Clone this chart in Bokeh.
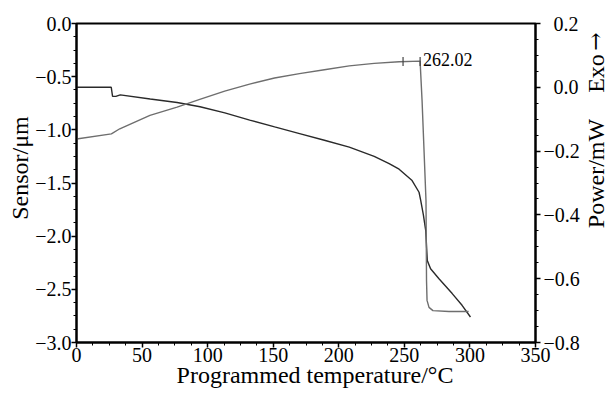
import numpy as np
from bokeh.plotting import figure
from bokeh.layouts import row
from bokeh.models import Range1d, LinearAxis, FixedTicker, CustomJSTickFormatter, Label
from bokeh.embed import file_html
from bokeh.resources import INLINE

# ---- data ----
temp_sensor = [0, 26.5, 27.5, 30, 33.4, 56.2, 76.7, 94.2, 113.1, 132.1, 151.1, 170.1, 189,
               208, 227, 238.4, 246, 255.9, 261.2, 262.5, 264.5, 266.3, 267.5, 270, 276.4,
               286.5, 294, 300.4]
sensor_um = [-0.60, -0.60, -0.685, -0.685, -0.671, -0.71, -0.743, -0.783, -0.84, -0.908,
             -0.972, -1.035, -1.098, -1.163, -1.25, -1.317, -1.37, -1.477, -1.587, -1.665,
             -1.80, -1.947, -2.23, -2.307, -2.40, -2.54, -2.65, -2.76]

temp_power = [0, 26.6, 33, 56, 76.7, 94, 113, 132, 151, 170, 189, 208, 227, 246, 262,
              263.5, 265, 266.5, 266.9, 267.3, 268.8, 271.8, 284, 299]
power_mw = [-0.162, -0.146, -0.13, -0.088, -0.062, -0.038, -0.012, 0.010, 0.029, 0.043,
            0.055, 0.067, 0.075, 0.080, 0.082, -0.041, -0.198, -0.355, -0.606, -0.668,
            -0.690, -0.700, -0.703, -0.703]

onset_marks_temp = [249.0, 262.02]
onset_marks_power = [0.081, 0.081]
onset_value = 262.02

x_ticks = [0, 50, 100, 150, 200, 250, 300, 350]
sensor_ticks = [-3.0, -2.5, -2.0, -1.5, -1.0, -0.5, 0.0]
power_ticks = [-0.8, -0.6, -0.4, -0.2, 0.0, 0.2]

x_label = "Programmed temperature/°C"
left_label = "Sensor/μm"
right_label = "Power/mW"
exo_label = "Exo"
exo_arrow = "→"

FONT = "Liberation Serif"
NB = "\u00a0"

p = figure(width=582, height=393, output_backend="svg", toolbar_location=None, tools="",
           x_range=Range1d(0, 350), y_range=Range1d(-3, 0),
           min_border_left=76, min_border_right=45, min_border_top=23, min_border_bottom=51)
p.extra_y_ranges = {"power": Range1d(-0.8, 0.2)}
p.grid.visible = False
p.outline_line_color = "black"
p.outline_line_width = 2
p.background_fill_color = "white"
p.border_fill_color = "white"

right_axis = LinearAxis(y_range_name="power")
p.add_layout(right_axis, "right")

p.xaxis.ticker = FixedTicker(ticks=x_ticks, minor_ticks=list(np.arange(0, 350.01, 12.5)))
p.yaxis[0].ticker = FixedTicker(ticks=sensor_ticks, minor_ticks=list(np.arange(-3.0, 0.001, 0.125)))
right_axis.ticker = FixedTicker(ticks=power_ticks, minor_ticks=list(np.arange(-0.8, 0.2001, 0.05)))

p.xaxis.formatter = CustomJSTickFormatter(code="return tick.toFixed(0);")
p.yaxis[0].formatter = CustomJSTickFormatter(
    code="return tick.toFixed(1).replace('-', '\u2212');")
right_axis.formatter = CustomJSTickFormatter(
    code="const s = tick.toFixed(1); return tick < -1e-9 ? s.replace('-', '\u2212') : '\u2007' + s;")

for ax in [p.xaxis[0], p.yaxis[0], right_axis]:
    ax.axis_line_width = 2
    ax.axis_line_color = "black"
    ax.major_tick_line_color = "black"
    ax.minor_tick_line_color = "black"
    ax.major_tick_line_width = 1.5
    ax.minor_tick_line_width = 1
    ax.major_tick_in = 0
    ax.major_tick_out = 5
    ax.minor_tick_in = 0
    ax.minor_tick_out = 3
    ax.major_label_text_font = FONT
    ax.major_label_text_font_size = "20px"
    ax.major_label_text_color = "black"
    ax.axis_label_text_font = FONT
    ax.axis_label_text_font_size = "24px"
    ax.axis_label_text_font_style = "normal"
    ax.axis_label_text_color = "black"

p.xaxis.major_label_standoff = 0
p.yaxis[0].major_label_standoff = 0
right_axis.major_label_standoff = 3

p.xaxis.axis_label = NB * 3 + x_label
p.xaxis.axis_label_standoff = -3
p.yaxis[0].axis_label = NB * 5 + left_label
p.yaxis[0].axis_label_standoff = -1

# curves
p.line(temp_sensor, sensor_um, line_color="#2a2a2a", line_width=1.4)
p.line(temp_power, power_mw, line_color="#6e6e6e", line_width=1.4, y_range_name="power")
p.scatter(onset_marks_temp, onset_marks_power, marker="dash", angle=np.pi / 2, size=9,
          line_color="#444444", line_width=1.2, y_range_name="power")

p.add_layout(Label(x=onset_value, y=onset_marks_power[-1], y_range_name="power",
                   text=f"{onset_value:.2f}", x_offset=3, y_offset=2,
                   text_align="left", text_baseline="middle",
                   text_font=FONT, text_font_size="18px", text_color="black"))

# narrow strip on the right holding the right-hand axis title (reads bottom to top)
q = figure(width=27, height=393, output_backend="svg", toolbar_location=None, tools="",
           x_range=Range1d(0, 1), y_range=Range1d(0, 1), x_axis_type=None, y_axis_type=None,
           min_border_left=0, min_border_right=0, min_border_top=0, min_border_bottom=0)
q.grid.visible = False
q.outline_line_color = None
q.background_fill_color = "white"
q.border_fill_color = "white"
q.add_layout(Label(x=13.4, y=169, x_units="screen", y_units="screen", text=right_label,
                   angle=np.pi / 2, text_align="center", text_baseline="middle",
                   text_font=FONT, text_font_size="24px", text_color="black"))
q.add_layout(Label(x=13.4, y=269, x_units="screen", y_units="screen", text=exo_label,
                   angle=np.pi / 2, text_align="center", text_baseline="middle",
                   text_font=FONT, text_font_size="24px", text_color="black"))
q.add_layout(Label(x=13.4, y=301, x_units="screen", y_units="screen", text=exo_arrow,
                   angle=np.pi / 2, text_align="center", text_baseline="middle",
                   text_font="DejaVu Serif", text_font_size="22px", text_color="black"))

layout = row(p, q, spacing=0)
open("out.html", "w").write(file_html(layout, INLINE))
